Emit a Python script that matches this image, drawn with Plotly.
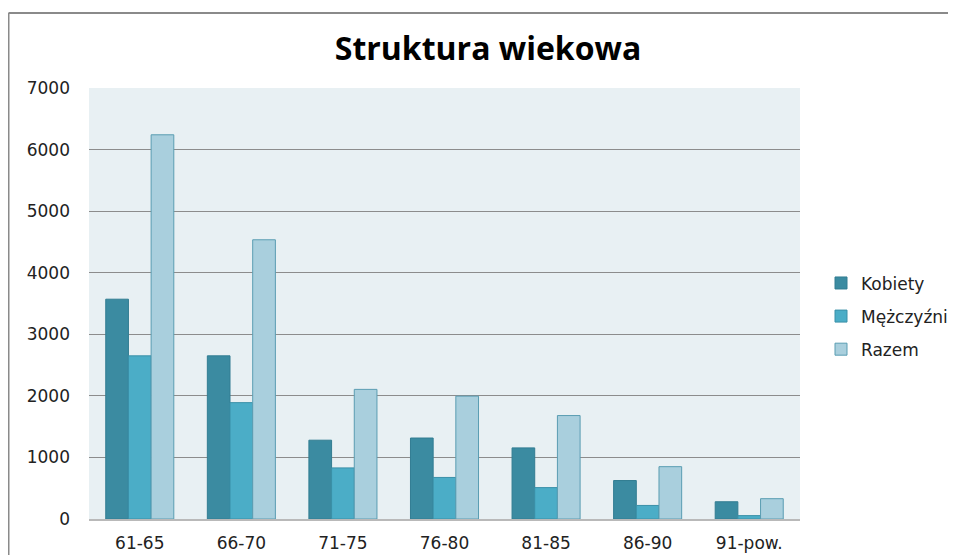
import plotly.graph_objects as go

categories = ["61-65", "66-70", "71-75", "76-80", "81-85", "86-90", "91-pow."]
kobiety = [3570, 2650, 1280, 1315, 1155, 625, 280]
mezczyzni = [2650, 1890, 830, 675, 510, 220, 55]
razem = [6240, 4535, 2105, 1995, 1680, 850, 330]
y_ticks = [0, 1000, 2000, 3000, 4000, 5000, 6000, 7000]

# page has an 8px body margin, so the figure is offset by (8, 8)
W, H = 948, 547
L, R, T, B = 81, 156, 80, 36
pw, ph = W - L - R, H - T - B

fig = go.Figure()
fig.add_trace(go.Bar(name="Kobiety", x=categories, y=kobiety, legendgroup="a",
                     marker=dict(color="#3b8ba1", line=dict(color="#327d92", width=1))))
fig.add_trace(go.Bar(name="Mężczyźni", x=categories, y=mezczyzni, legendgroup="b",
                     marker=dict(color="#4badc7", line=dict(color="#3a90a8", width=1))))
fig.add_trace(go.Bar(name="Razem", x=categories, y=razem, legendgroup="c",
                     marker=dict(color="#a9cfdd", line=dict(color="#5a9db2", width=1))))

# outer chart border (left and top edges visible)
bx = (0.5 - L) / pw
by = 1 + (T - 5) / ph
fig.add_shape(type="line", xref="paper", yref="paper", x0=bx, x1=bx, y0=-0.2, y1=by,
              line=dict(color="#8a8a8a", width=2))
fig.add_shape(type="line", xref="paper", yref="paper", x0=bx, x1=1.4, y0=by, y1=by,
              line=dict(color="#8a8a8a", width=2))

fig.update_layout(
    width=W, height=H,
    margin=dict(l=L, r=R, t=T, b=B, autoexpand=False),
    paper_bgcolor="white",
    plot_bgcolor="#e8f0f3",
    barmode="group",
    bargap=0.33,
    bargroupgap=0,
    title=dict(text="<b>Struktura wiekowa</b>", x=480 / W, xref="container", xanchor="center",
               y=1 - 41 / H, yref="container", yanchor="middle",
               font=dict(family="Open Sans, Lato, sans-serif", size=32, color="#000000")),
    font=dict(family="DejaVu Sans, sans-serif", size=17, color="#222222"),
    legend=dict(x=(813 - L) / pw, xanchor="left", y=0.47, yanchor="middle",
                font=dict(size=17, color="#222222"), tracegroupgap=8,
                bgcolor="rgba(0,0,0,0)"),
    xaxis=dict(showgrid=False, showline=True, linecolor="#b9b9b9", linewidth=1.5,
               ticks="", ticklabelstandoff=8, tickfont=dict(size=17), automargin=False),
    yaxis=dict(range=[0, 7000], tickvals=y_ticks, showgrid=True, gridcolor="#8c8c8c",
               gridwidth=1, zeroline=False, showline=False, ticks="",
               ticklabelstandoff=18, tickfont=dict(size=17), automargin=False),
)

fig.write_html("out.html")
